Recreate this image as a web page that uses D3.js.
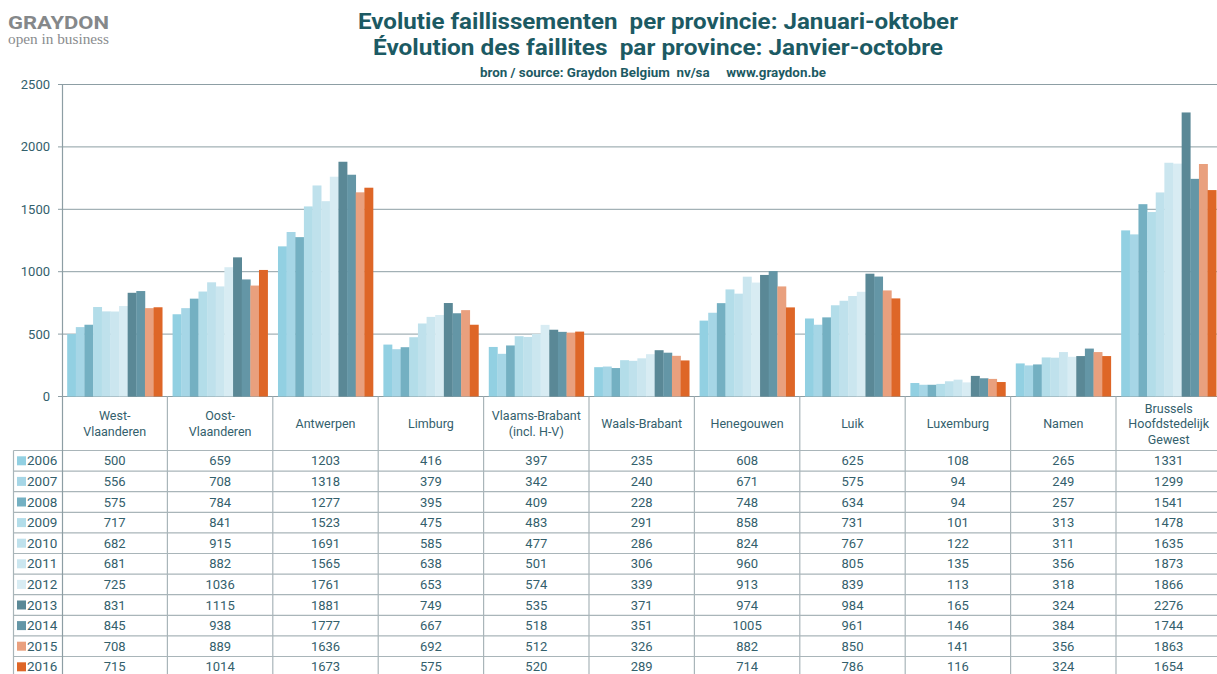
<!DOCTYPE html>
<html>
<head>
<meta charset="utf-8">
<script src="https://cdn.jsdelivr.net/npm/d3@7/dist/d3.min.js"></script>
<style>
  html, body { margin: 0; padding: 0; background: #fff; }
  svg { display: block; font-family: Roboto, "Noto Sans", sans-serif; }
</style>
</head>
<body>
<svg id="chart" width="1217" height="674"></svg>
<script>
const provinces = [
  ["West-", "Vlaanderen"],
  ["Oost-", "Vlaanderen"],
  ["Antwerpen"],
  ["Limburg"],
  ["Vlaams-Brabant", "(incl. H-V)"],
  ["Waals-Brabant"],
  ["Henegouwen"],
  ["Luik"],
  ["Luxemburg"],
  ["Namen"],
  ["Brussels", "Hoofdstedelijk", "Gewest"]
];
const years = ["2006","2007","2008","2009","2010","2011","2012","2013","2014","2015","2016"];
const v2006 = [500, 659, 1203, 416, 397, 235, 608, 625, 108, 265, 1331];
const v2007 = [556, 708, 1318, 379, 342, 240, 671, 575, 94, 249, 1299];
const v2008 = [575, 784, 1277, 395, 409, 228, 748, 634, 94, 257, 1541];
const v2009 = [717, 841, 1523, 475, 483, 291, 858, 731, 101, 313, 1478];
const v2010 = [682, 915, 1691, 585, 477, 286, 824, 767, 122, 311, 1635];
const v2011 = [681, 882, 1565, 638, 501, 306, 960, 805, 135, 356, 1873];
const v2012 = [725, 1036, 1761, 653, 574, 339, 913, 839, 113, 318, 1866];
const v2013 = [831, 1115, 1881, 749, 535, 371, 974, 984, 165, 324, 2276];
const v2014 = [845, 938, 1777, 667, 518, 351, 1005, 961, 146, 384, 1744];
const v2015 = [708, 889, 1636, 692, 512, 326, 882, 850, 141, 356, 1863];
const v2016 = [715, 1014, 1673, 575, 520, 289, 714, 786, 116, 324, 1654];
const yTicks = [0, 500, 1000, 1500, 2000, 2500];
const colors = ["#92d0e2","#a6d6e6","#74b0c2","#b3dde9","#bfe1ec","#cbe6ef","#d8ecf3","#5a8896","#6496a6","#e9a07e","#de6627"];

const series = [v2006, v2007, v2008, v2009, v2010, v2011, v2012, v2013, v2014, v2015, v2016];
const svg = d3.select("#chart");
const keys = provinces.map((p, i) => "p" + i);

const left = 62, step = 105.4;
const x = d3.scaleBand().domain(keys).range([left, left + step * keys.length]).padding(0);
const xi = d3.scaleBand().domain(years).range([0, x.bandwidth()]).paddingInner(0).paddingOuter(0.6);
const y = d3.scaleLinear().domain([0, 2500]).range([396.5, 84.5]);

const textCol = "#33606c";
const gridCol = "#8d9ea4";
const lineCol = "#a9b5b9";

// Logo
const logo = svg.append("g");
logo.append("text").attr("x", 8).attr("y", 29).attr("font-size", 19).attr("font-weight", 700)
  .attr("fill", "#85888a").attr("textLength", 101).attr("lengthAdjust", "spacingAndGlyphs")
  .text("GRAYDON");
logo.append("text").attr("x", 8).attr("y", 44).attr("font-size", 14)
  .attr("font-family", "'Liberation Serif', 'DejaVu Serif', serif")
  .attr("fill", "#8a8c8e").attr("textLength", 101).attr("lengthAdjust", "spacingAndGlyphs")
  .text("open in business");

// Titles
const titleCol = "#1c5a63";
svg.append("text").attr("x", 658).attr("y", 29).attr("text-anchor", "middle")
  .attr("font-size", 22).attr("font-weight", 700).attr("fill", titleCol)
  .attr("textLength", 600).attr("lengthAdjust", "spacingAndGlyphs")
  .attr("xml:space", "preserve")
  .text("Evolutie faillissementen  per provincie: Januari-oktober");
svg.append("text").attr("x", 658).attr("y", 55).attr("text-anchor", "middle")
  .attr("font-size", 22).attr("font-weight", 700).attr("fill", titleCol)
  .attr("textLength", 570).attr("lengthAdjust", "spacingAndGlyphs")
  .attr("xml:space", "preserve")
  .text("Évolution des faillites  par province: Janvier-octobre");
svg.append("text").attr("x", 653).attr("y", 77).attr("text-anchor", "middle")
  .attr("font-size", 12).attr("font-weight", 700).attr("fill", titleCol)
  .attr("textLength", 346).attr("lengthAdjust", "spacingAndGlyphs")
  .attr("xml:space", "preserve")
  .text("bron / source: Graydon Belgium  nv/sa     www.graydon.be");

// Gridlines
svg.append("g").selectAll("line").data(yTicks).join("line")
  .attr("x1", left - 4).attr("x2", 1217)
  .attr("y1", d => y(d)).attr("y2", d => y(d))
  .attr("stroke", gridCol).attr("stroke-width", 1);

// Y axis labels
svg.append("g").selectAll("text").data(yTicks).join("text")
  .attr("x", 50).attr("y", d => y(d) + 4.5).attr("text-anchor", "end")
  .attr("font-size", 13).attr("fill", textCol).text(d => d);

// Bars
const gBars = svg.append("g");
keys.forEach((k, pi) => {
  years.forEach((yr, yi) => {
    const val = series[yi][pi];
    gBars.append("rect")
      .attr("x", x(k) + xi(yr))
      .attr("width", xi.bandwidth() + 0.3)
      .attr("y", y(val))
      .attr("height", y(0) - y(val))
      .attr("fill", colors[yi]);
  });
});

// Table
const headerTop = 396.5, headerBottom = 450.5, rowH = 20.6;
const tableLeft = 13.5;
const nRows = years.length;
const gT = svg.append("g");

// horizontal lines
for (let r = 0; r <= nRows; r++) {
  const yy = headerBottom + r * rowH;
  gT.append("line").attr("x1", tableLeft).attr("x2", 1217).attr("y1", yy).attr("y2", yy)
    .attr("stroke", lineCol).attr("stroke-width", 1.2);
}
// vertical lines at category boundaries
keys.forEach((k, i) => {
  if (i === 0) return;
  gT.append("line").attr("x1", x(k)).attr("x2", x(k)).attr("y1", headerTop).attr("y2", 674)
    .attr("stroke", lineCol).attr("stroke-width", 1.2);
});
gT.append("line").attr("x1", tableLeft).attr("x2", tableLeft).attr("y1", headerBottom).attr("y2", 674)
  .attr("stroke", lineCol).attr("stroke-width", 1.2);
// axis line
svg.append("line").attr("x1", left + 0.5).attr("x2", left + 0.5).attr("y1", 84.5).attr("y2", 674)
  .attr("stroke", gridCol).attr("stroke-width", 1.2);

// header labels
keys.forEach((k, i) => {
  const lines = provinces[i];
  const cx = x(k) + x.bandwidth() / 2;
  const lh = 15.5;
  const cy = (headerTop + headerBottom) / 2;
  const t = gT.append("text").attr("text-anchor", "middle").attr("font-size", 12.5).attr("fill", textCol);
  lines.forEach((ln, li) => {
    t.append("tspan").attr("x", cx)
      .attr("y", cy + (li - (lines.length - 1) / 2) * lh + 4.5)
      .text(ln);
  });
});

// rows
years.forEach((yr, yi) => {
  const cy = headerBottom + yi * rowH + rowH / 2;
  gT.append("rect").attr("x", 17).attr("y", cy - 4.5).attr("width", 9).attr("height", 9).attr("fill", colors[yi]);
  gT.append("text").attr("x", 27).attr("y", cy + 4.5).attr("font-size", 13.5).attr("fill", textCol).text(yr);
  keys.forEach((k, pi) => {
    gT.append("text").attr("x", x(k) + x.bandwidth() / 2).attr("y", cy + 4.5)
      .attr("text-anchor", "middle").attr("font-size", 13).attr("fill", textCol)
      .text(series[yi][pi]);
  });
});
</script>
</body>
</html>
